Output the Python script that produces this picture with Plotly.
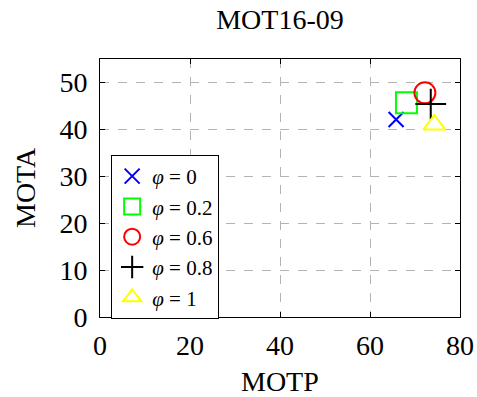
import plotly.graph_objects as go

labels = ["<i>φ</i> = 0", "<i>φ</i> = 0.2", "<i>φ</i> = 0.6", "<i>φ</i> = 0.8", "<i>φ</i> = 1"]
motp = [65.8, 68.1, 72.2, 73.5, 74.3]
mota = [42.1, 45.7, 47.8, 45.4, 41.0]
symbols = ["x-thin-open", "square-open", "circle-open", "cross-thin-open", "triangle-up-open"]
colors = ["#0000ff", "#00ff00", "#ff0000", "#000000", "#ffff00"]
sizes = [15, 21, 21, 22, 19]

W, H = 477, 397
font = "Liberation Serif"
fig = go.Figure()
for lab, x, y, s, c, sz in zip(labels, motp, mota, symbols, colors, sizes):
    fig.add_trace(go.Scatter(x=[x], y=[y], mode="markers", name=lab,
                             marker=dict(symbol=s, size=sz, color=c,
                                         line=dict(color=c, width=2))))

fig.update_layout(
    width=W, height=H,
    margin=dict(l=100, r=17, t=59, b=80, autoexpand=False),
    paper_bgcolor="white", plot_bgcolor="white",
    font=dict(family=font, size=26, color="black"),
    title=dict(text="MOT16-09", x=0.5, xref="paper", y=1 - 19 / H, yanchor="middle",
               font=dict(size=28)),
    legend=dict(x=0.031, y=0.628, xanchor="left", yanchor="top",
                bordercolor="black", borderwidth=1, bgcolor="white",
                font=dict(size=21), itemsizing="trace", tracegroupgap=0),
    showlegend=True,
    annotations=[
        dict(text="MOTP", x=0.5, xref="paper", y=0, yref="paper", yshift=-64,
             xanchor="center", yanchor="middle", showarrow=False, font=dict(size=28)),
        dict(text="MOTA", x=0, xref="paper", y=0.5, yref="paper", xshift=-75,
             xanchor="center", yanchor="middle", textangle=-90, showarrow=False,
             font=dict(size=28)),
    ],
)
axis_common = dict(showgrid=True, gridcolor="#b3b3b3", griddash="dash", gridwidth=1,
                   showline=True, linecolor="black", linewidth=1, mirror="ticks",
                   ticks="inside", ticklen=5, tickcolor="black", zeroline=False,
                   tickfont=dict(size=28), automargin=False)
fig.update_xaxes(range=[0, 80], tickvals=[0, 20, 40, 60, 80], ticklabelstandoff=3,
                 **axis_common)
fig.update_yaxes(range=[0, 55], tickvals=[0, 10, 20, 30, 40, 50], ticklabelstandoff=6,
                 **axis_common)

fig.write_html(
    "out.html",
    config={"displayModeBar": False},
    post_script="document.body.style.margin='0';document.body.style.overflow='hidden';",
)
